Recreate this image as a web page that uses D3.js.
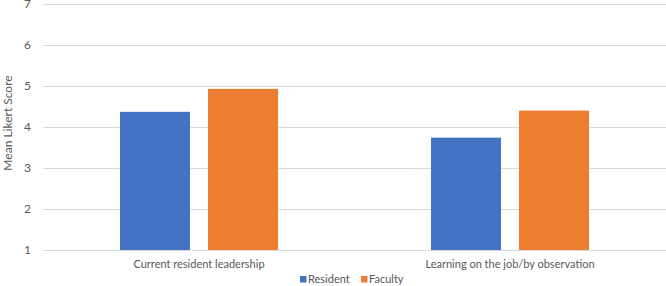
<!DOCTYPE html>
<html>
<head>
<meta charset="utf-8">
<script src="https://cdn.jsdelivr.net/npm/d3@7"></script>
<style>
  html, body { margin: 0; padding: 0; background: #fff; }
  svg { display: block; font-family: Lato, "Open Sans", sans-serif; }
</style>
</head>
<body>
<svg id="chart" width="666" height="286"></svg>
<script>
const categories = ["Current resident leadership", "Learning on the job/by observation"];
const seriesNames = ["Resident", "Faculty"];
const residentValues = [4.37, 3.74];
const facultyValues = [4.93, 4.40];
const yTicks = [1, 2, 3, 4, 5, 6, 7];
const colors = ["#4472c4", "#ed7d31"];

const seriesValues = [residentValues, facultyValues];
const svg = d3.select("#chart");
const plotLeft = 43.5, plotRight = 665.5, plotTop = 4, plotBottom = 250;

const x0 = d3.scaleBand().domain(categories).range([plotLeft, plotRight]).padding(0);
const x1 = d3.scaleBand().domain(seriesNames).range([0, x0.bandwidth()])
  .paddingInner(0.2045).paddingOuter(0.869);
const y = d3.scaleLinear().domain([1, 7]).range([plotBottom, plotTop]);

// gridlines
svg.append("g").selectAll("line").data(yTicks).join("line")
  .attr("x1", plotLeft).attr("x2", 666)
  .attr("y1", d => Math.round(y(d)) + 0.5).attr("y2", d => Math.round(y(d)) + 0.5)
  .attr("stroke", "#d9d9d9").attr("stroke-width", 1);

// y tick labels
const yAxis = d3.axisLeft(y).tickValues(yTicks).tickSize(0).tickPadding(0).tickFormat(d3.format("d"));
const ya = svg.append("g").attr("transform", `translate(31,0)`).call(yAxis);
ya.select(".domain").remove();
ya.selectAll("text").attr("fill", "#595959").attr("font-size", 12).attr("font-family", "Lato, sans-serif");

// bars
categories.forEach((c, ci) => {
  seriesNames.forEach((s, si) => {
    const v = seriesValues[si][ci];
    svg.append("rect")
      .attr("x", x0(c) + x1(s))
      .attr("y", y(v))
      .attr("width", x1.bandwidth())
      .attr("height", y(1) - y(v))
      .attr("fill", colors[si]);
  });
});

// category labels
const xAxis = d3.axisBottom(x0).tickSize(0).tickPadding(0);
const xa = svg.append("g").attr("transform", `translate(0,${plotBottom})`).call(xAxis);
xa.select(".domain").remove();
xa.selectAll("text").attr("fill", "#595959").attr("font-size", 11)
  .attr("font-family", "Lato, sans-serif").attr("dy", "1.6em");

// y title
svg.append("text")
  .attr("transform", `translate(12,123) rotate(-90)`)
  .attr("text-anchor", "middle")
  .attr("fill", "#595959").attr("font-size", 12)
  .text("Mean Likert Score");

// legend
const legendItems = [{name: "Resident", x: 300}, {name: "Faculty", x: 361}];
legendItems.forEach((it, i) => {
  svg.append("rect").attr("x", it.x).attr("y", 276).attr("width", 6.5).attr("height", 6.5).attr("fill", colors[i]);
  svg.append("text").attr("x", it.x + 8).attr("y", 283).attr("fill", "#595959")
    .attr("font-size", 11).text(it.name);
});
</script>
</body>
</html>
